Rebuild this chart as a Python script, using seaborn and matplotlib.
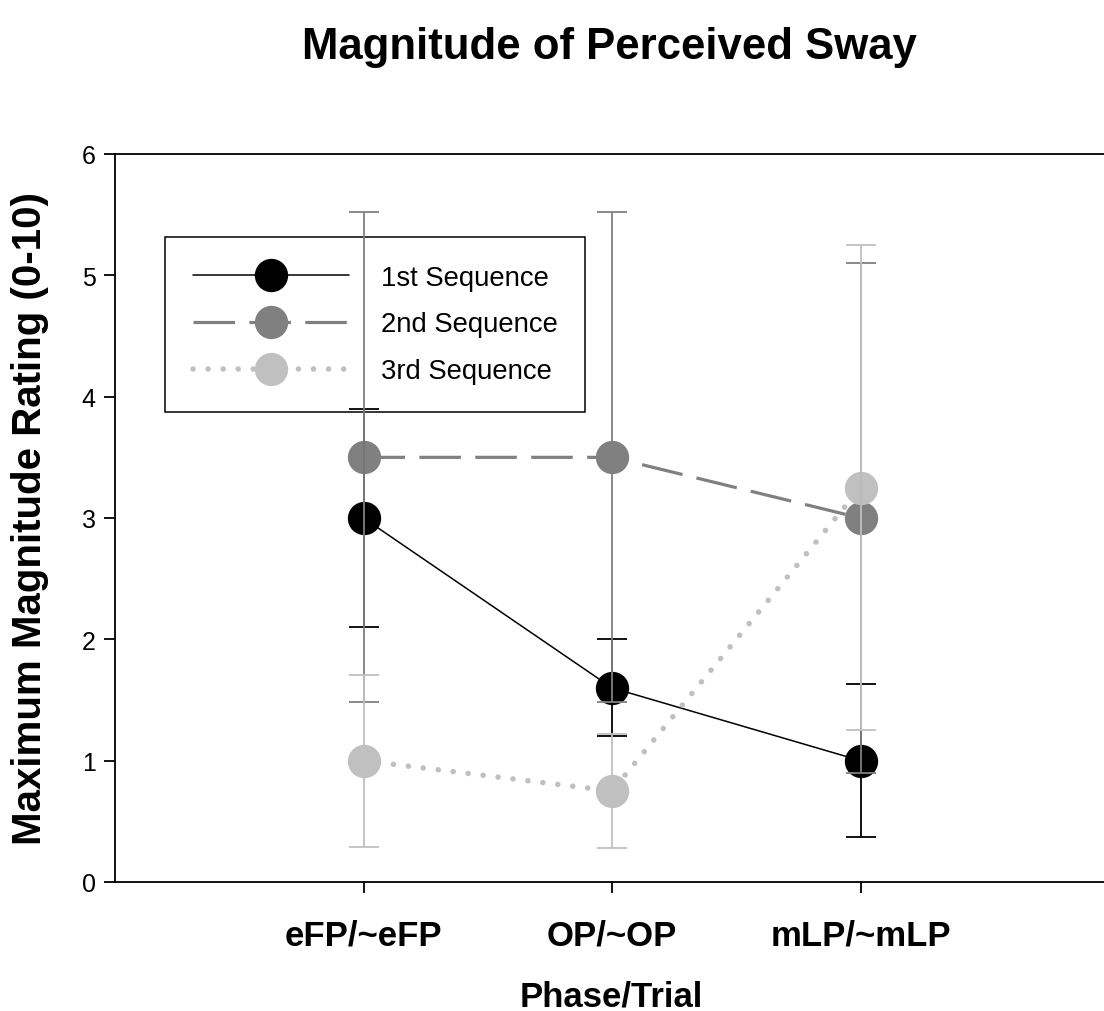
import matplotlib
matplotlib.use("Agg")
import matplotlib.pyplot as plt
import seaborn as sns
import pandas as pd
import numpy as np

# ---- data ----
phases = ["eFP/~eFP", "OP/~OP", "mLP/~mLP"]
seq_labels = ["1st Sequence", "2nd Sequence", "3rd Sequence"]
mean_1st = [3.0, 1.6, 1.0]
err_1st = [0.9, 0.4, 0.63]
mean_2nd = [3.5, 3.5, 3.0]
err_2nd = [2.02, 2.02, 2.1]
mean_3rd = [1.0, 0.75, 3.25]
err_3rd = [0.71, 0.47, 2.0]
y_ticks = [0, 1, 2, 3, 4, 5, 6]

means = [mean_1st, mean_2nd, mean_3rd]
errs = [err_1st, err_2nd, err_3rd]

sns.set_theme(style="white")
plt.rcParams['font.family'] = ['Liberation Sans', 'DejaVu Sans']
for k in ["text.color", "axes.labelcolor", "xtick.color", "ytick.color"]:
    plt.rcParams[k] = "black"

W, H = 1104, 1012
fig = plt.figure(figsize=(W / 100, H / 100), dpi=100)
ax_l, ax_r, ax_t, ax_b = 115, 1109, 155, 883
ax = fig.add_axes([ax_l / W, 1 - ax_b / H, (ax_r - ax_l) / W, (ax_b - ax_t) / H])

colors = ["#000000", "#808080", "#c0c0c0"]
lws = [1.1, 2.3, 4.0]
dash_specs = [None, (13, 4.5), (0.01, 2.7)]

for i in range(3):
    df = pd.DataFrame({"phase": phases, "value": means[i]})
    sns.lineplot(data=df, x="phase", y="value", ax=ax, color=colors[i],
                 linewidth=lws[i], marker="o", markersize=24,
                 markeredgewidth=0, markerfacecolor=colors[i],
                 label=seq_labels[i], sort=False, zorder=3 + i * 0.1)
    line = ax.lines[-1]
    if dash_specs[i] is not None:
        line.set_dashes(dash_specs[i])
    if i == 2:
        line.set_dash_capstyle("round")
    else:
        line.set_dash_capstyle("butt")

# error bars (drawn above markers)
xpos = np.arange(len(phases))
for i in range(3):
    ax.errorbar(xpos, means[i], yerr=errs[i], fmt="none", ecolor=colors[i],
                elinewidth=1.3, capsize=11, capthick=1.3, zorder=5 + i * 0.1)

ax.set_xlim(-1, 3)
ax.set_ylim(0, 6)
ax.set_yticks(y_ticks)
ax.set_yticklabels([str(t) for t in y_ticks], fontsize=18)
ax.set_xticks(xpos)
ax.set_xticklabels(phases, fontsize=25, fontweight="bold")
ax.tick_params(axis="both", direction="out", length=8, width=1.3, color="black",
               left=True, bottom=True, top=False, right=False)
ax.tick_params(axis="x", pad=18)
ax.tick_params(axis="y", pad=6)

for side in ["left", "bottom", "top"]:
    ax.spines[side].set_visible(True)
    ax.spines[side].set_color("black")
    ax.spines[side].set_linewidth(1.3)
ax.spines["right"].set_visible(False)

ax.set_xlabel("Phase/Trial", fontsize=25, fontweight="bold")
ax.set_ylabel("Maximum Magnitude Rating (0-10)", fontsize=29, fontweight="bold")
ax.xaxis.set_label_coords(0.499, (ax_b - 997) / (ax_b - ax_t))
ax.yaxis.set_label_coords((30 - ax_l) / (ax_r - ax_l), 0.5)
ax.xaxis.label.set_va("center")
ax.yaxis.label.set_va("center")

leg = ax.legend(loc="upper left",
                bbox_to_anchor=((165 - ax_l) / (ax_r - ax_l), (ax_b - 238) / (ax_b - ax_t)),
                borderaxespad=0, fontsize=19.8, frameon=True, fancybox=False,
                handlelength=5.7, handletextpad=1.15, labelspacing=0.76,
                borderpad=1.0, edgecolor="black", framealpha=1)
leg.get_frame().set_linewidth(1.1)
leg.set_zorder(4)

fig.text(0.552, 1 - 48 / H, "Magnitude of Perceived Sway", fontsize=31.5,
         fontweight="bold", ha="center", va="center")

fig.savefig("out.png", dpi=100)
